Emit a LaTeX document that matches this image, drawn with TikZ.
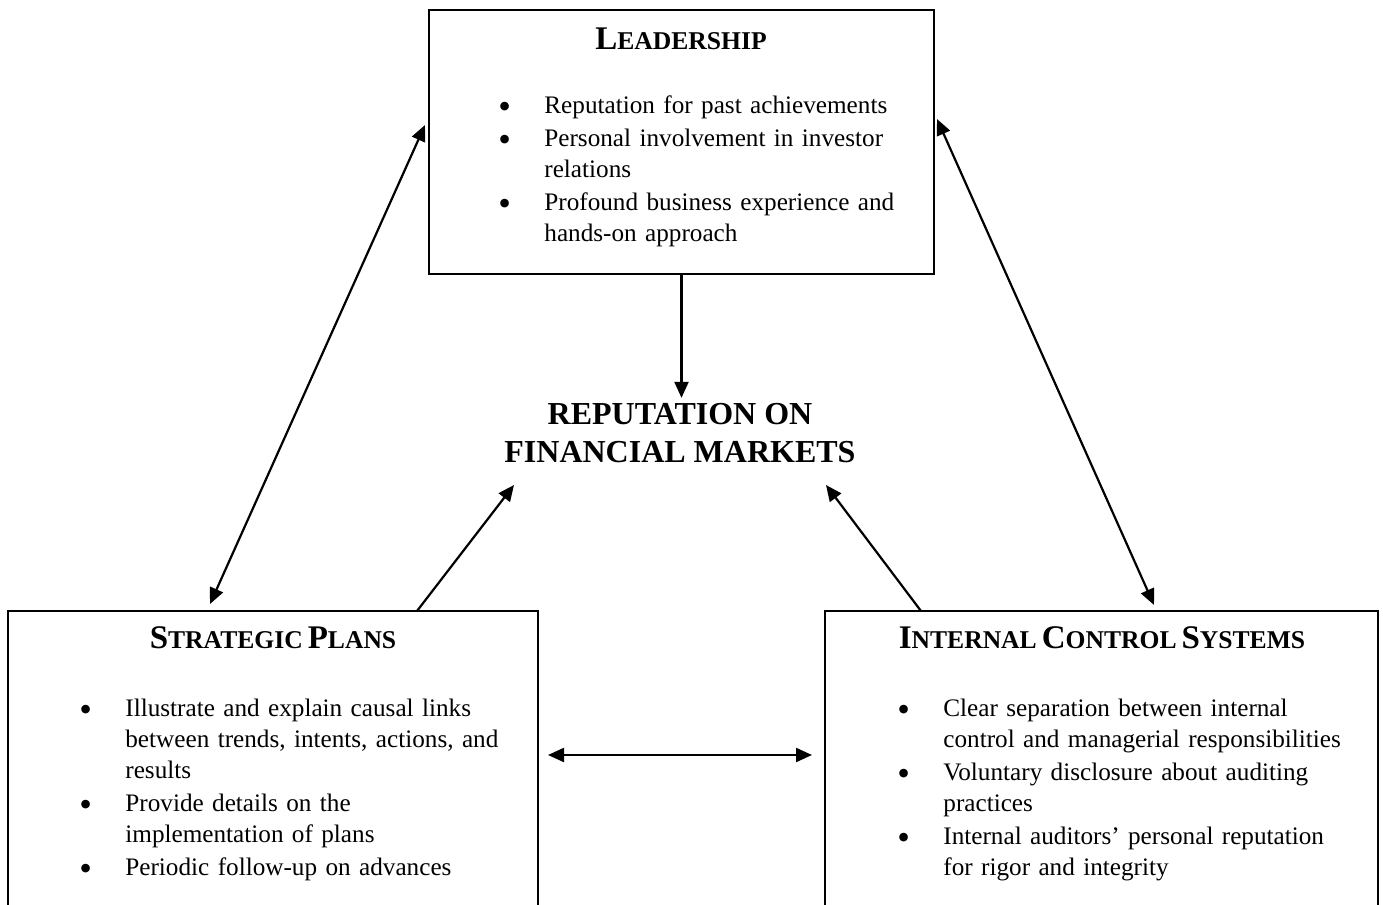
\documentclass[tikz,border=0pt]{standalone}
\usepackage{fontspec}
\setmainfont{Liberation Serif}
\usetikzlibrary{arrows.meta,positioning}

% fake small caps for the box titles
\newcommand\fakesc[2]{{\fontsize{16.5}{18}\selectfont #1}{\fontsize{12.8}{14}\selectfont #2}}
% bullet list as in the boxes
\newcommand\bigdot{\raisebox{-2.4pt}{\fontsize{18}{18}\selectfont\textbullet}}
\newenvironment{blist}{\begin{list}{\bigdot}{%
    \setlength\leftmargin{23pt}\setlength\labelsep{16pt}\setlength\labelwidth{7pt}%
    \setlength\itemsep{1pt}\setlength\parsep{0pt}\setlength\topsep{0pt}%
    \setlength\partopsep{0pt}\def\makelabel##1{##1\hfil}}}{\end{list}}

\begin{document}
\begin{tikzpicture}[x=0.5pt,y=-0.5pt,
    box/.style={draw,line width=0.9pt,inner sep=0pt},
    boxtitle/.style={font=\bfseries,inner sep=0pt,anchor=base},
    items/.style={font=\fontsize{12.6}{15.5}\selectfont,text width=230pt,align=left,inner sep=0pt,anchor=north west},
    arr/.style={line width=1.1pt,-{Triangle[length=8pt,width=7pt]}},
    dblarr/.style={line width=1.1pt,{Triangle[length=8pt,width=7pt]}-{Triangle[length=8pt,width=7pt]}}]
  \clip (0,0) rectangle (1383,905);
  % boxes
  \node[box,minimum width=252.5pt,minimum height=132pt] (lead) at (681.5,142) {};
  \node[box,minimum width=265pt,minimum height=170pt] (plans) at (273,781) {};
  \node[box,minimum width=276.5pt,minimum height=170pt] (ctrl) at (1101.5,781) {};
  % titles
  \node[boxtitle] (leadtitle) at (681,49) {\fakesc{L}{EADERSHIP}};
  \node[boxtitle] (planstitle) at (273,648) {\fakesc{S}{TRATEGIC} \fakesc{P}{LANS}};
  \node[boxtitle] (ctrltitle) at (1102,648) {\fakesc{I}{NTERNAL} \fakesc{C}{ONTROL} \fakesc{S}{YSTEMS}};
  % lists
  \node[items] (leaditems) at (498,82) {\begin{blist}
      \item Reputation for past achievements
      \item Personal involvement in investor\newline relations
      \item Profound business experience and\newline hands-on approach
    \end{blist}};
  \node[items] (plansitems) at (79,685) {\begin{blist}
      \item Illustrate and explain causal links\newline between trends, intents, actions, and\newline results
      \item Provide details on the\newline implementation of plans
      \item Periodic follow-up on advances
    \end{blist}};
  \node[items] (ctrlitems) at (897,685) {\begin{blist}
      \item Clear separation between internal\newline control and managerial responsibilities
      \item Voluntary disclosure about auditing\newline practices
      \item Internal auditors’ personal reputation\newline for rigor and integrity
    \end{blist}};
  % centre
  \node[font=\fontsize{16}{19}\selectfont\bfseries,align=center,inner sep=2.5pt] (rep) at (680,433) {REPUTATION ON\\FINANCIAL MARKETS};
  % arrow ends
  \coordinate (leadw) at (425,125);
  \coordinate (leade) at (937,119);
  \coordinate (plansn) at (210,604);
  \coordinate (ctrln) at (1154,605);
  \coordinate (plansout) at (417,611);
  \coordinate (ctrlout) at (921,611);
  \coordinate (repl) at (514,485);
  \coordinate (repr) at (826,485);
  \coordinate (plansr) at (548,755);
  \coordinate (ctrll) at (812,755);
  % connectors
  \draw[arr] (lead.south) -- (lead.south |- rep.north);
  \draw[dblarr] (leadw) -- (plansn);
  \draw[dblarr] (leade) -- (ctrln);
  \draw[arr] (plansout) -- (repl);
  \draw[arr] (ctrlout) -- (repr);
  \draw[dblarr] (plansr) -- (ctrll);
\end{tikzpicture}
\end{document}
